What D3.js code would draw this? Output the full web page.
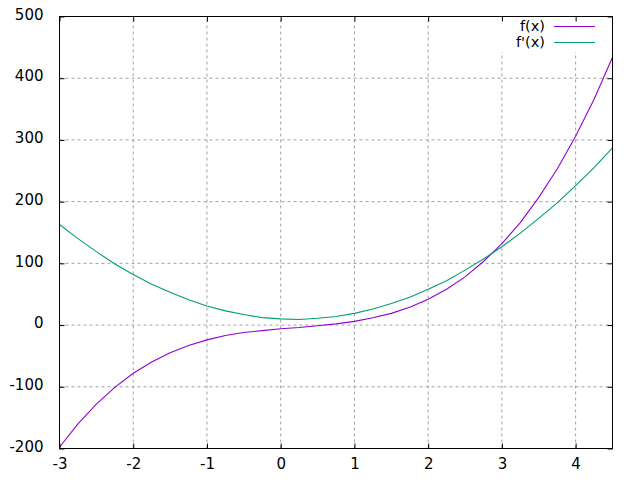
<!DOCTYPE html>
<html>
<head>
<meta charset="utf-8">
<script src="https://cdn.jsdelivr.net/npm/d3@7"></script>
<style>
  html, body { margin: 0; padding: 0; background: #fff; }
  svg { display: block; font-family: "DejaVu Sans", sans-serif; }
</style>
</head>
<body>
<div id="chart"></div>
<script>
// valeurs (pas de 0.25)
const xs = [-3, -2.75, -2.5, -2.25, -2, -1.75, -1.5, -1.25, -1, -0.75, -0.5, -0.25,
  0, 0.25, 0.5, 0.75, 1, 1.25, 1.5, 1.75, 2, 2.25, 2.5, 2.75, 3, 3.25, 3.5, 3.75, 4, 4.25, 4.5];
const fValues = [-198, -160, -128, -101, -78, -60, -45, -33, -24, -17, -12, -9,
  -6, -4, -1, 2, 6, 12, 19, 29, 42, 58, 78, 103, 132, 166, 207, 253, 306, 366, 434];
const dfValues = [163, 140, 119, 99, 82, 66, 53, 41, 31, 23, 17, 12,
  10, 9, 11, 14, 19, 26, 35, 45, 58, 72, 89, 107, 127, 149, 173, 198, 226, 255, 287];
const xTicks = [-3, -2, -1, 0, 1, 2, 3, 4];
const yTicks = [-200, -100, 0, 100, 200, 300, 400, 500];
const seriesNames = ["f(x)", "f'(x)"];
const seriesColors = ["#9400d3", "#009e73"];

const W = 640, H = 480;
const M = { left: 59.5, right: 612.5, top: 16.5, bottom: 448.5 };
const TIC = 5;
const plain = (d) => String(d); // trait d'union ASCII comme gnuplot

const svg = d3.select("#chart").append("svg")
  .attr("width", W).attr("height", H)
  .attr("viewBox", `0 0 ${W} ${H}`);

const x = d3.scaleLinear().domain([-3, 4.5]).range([M.left, M.right]);
const y = d3.scaleLinear().domain([-200, 500]).range([M.bottom, M.top]);

// grille pointillée
const grid = svg.append("g").attr("stroke", "#a0a0a0").attr("stroke-width", 1)
  .attr("stroke-dasharray", "3,3");
xTicks.filter((t) => x(t) > M.left + 1).forEach((t) => {
  grid.append("line").attr("x1", x(t)).attr("x2", x(t)).attr("y1", M.bottom).attr("y2", M.top);
});
yTicks.filter((t) => y(t) > M.top + 1 && y(t) < M.bottom - 1).forEach((t) => {
  grid.append("line").attr("x1", M.left).attr("x2", M.right).attr("y1", y(t)).attr("y2", y(t));
});

// la légende masque la grille
svg.append("rect").attr("x", 470).attr("y", M.top + 0.5).attr("width", M.right - 470 - 0.5)
  .attr("height", 35).attr("fill", "#fff");

// courbes
svg.append("clipPath").attr("id", "plot-clip").append("rect")
  .attr("x", M.left).attr("y", M.top).attr("width", M.right - M.left).attr("height", M.bottom - M.top);

const line = d3.line().x((d) => x(d[0])).y((d) => y(d[1]));
[fValues, dfValues].forEach((vals, i) => {
  svg.append("path")
    .attr("clip-path", "url(#plot-clip)")
    .attr("d", line(xs.map((xv, j) => [xv, vals[j]])))
    .attr("fill", "none")
    .attr("stroke", seriesColors[i])
    .attr("stroke-width", 1.1);
});

// axes : ticks vers l'intérieur, en miroir
const styleAxis = (g) => {
  g.select(".domain").remove();
  g.selectAll("line").attr("stroke", "#000");
  g.selectAll("text").attr("font-size", 15).attr("font-family", "DejaVu Sans").attr("fill", "#000");
};
svg.append("g").attr("transform", `translate(0,${M.bottom})`)
  .call(d3.axisBottom(x).tickValues(xTicks).tickFormat(plain)
    .tickSizeInner(-TIC).tickSizeOuter(0).tickPadding(10))
  .call(styleAxis);
svg.append("g").attr("transform", `translate(0,${M.top})`)
  .call(d3.axisTop(x).tickValues(xTicks).tickSizeInner(-TIC).tickSizeOuter(0).tickFormat(""))
  .call(styleAxis);
svg.append("g").attr("transform", `translate(${M.left},0)`)
  .call(d3.axisLeft(y).tickValues(yTicks).tickFormat(plain)
    .tickSizeInner(-TIC).tickSizeOuter(0).tickPadding(16))
  .call(styleAxis)
  .call((g) => g.selectAll("text").attr("dy", "0.18em"));
svg.append("g").attr("transform", `translate(${M.right},0)`)
  .call(d3.axisRight(y).tickValues(yTicks).tickSizeInner(-TIC).tickSizeOuter(0).tickFormat(""))
  .call(styleAxis);

// cadre
svg.append("rect").attr("x", M.left).attr("y", M.top).attr("width", M.right - M.left)
  .attr("height", M.bottom - M.top).attr("fill", "none").attr("stroke", "#000").attr("stroke-width", 1);

// légende
const legend = svg.append("g");
seriesNames.forEach((name, i) => {
  const ly = 26.5 + i * 16;
  legend.append("text").attr("x", 545).attr("y", ly).attr("dy", "0.3em")
    .attr("text-anchor", "end").attr("font-size", 14.5).attr("fill", "#000").text(name);
  legend.append("line").attr("x1", 554).attr("x2", 595).attr("y1", ly).attr("y2", ly)
    .attr("stroke", seriesColors[i]).attr("stroke-width", 1.1);
});
</script>
</body>
</html>
